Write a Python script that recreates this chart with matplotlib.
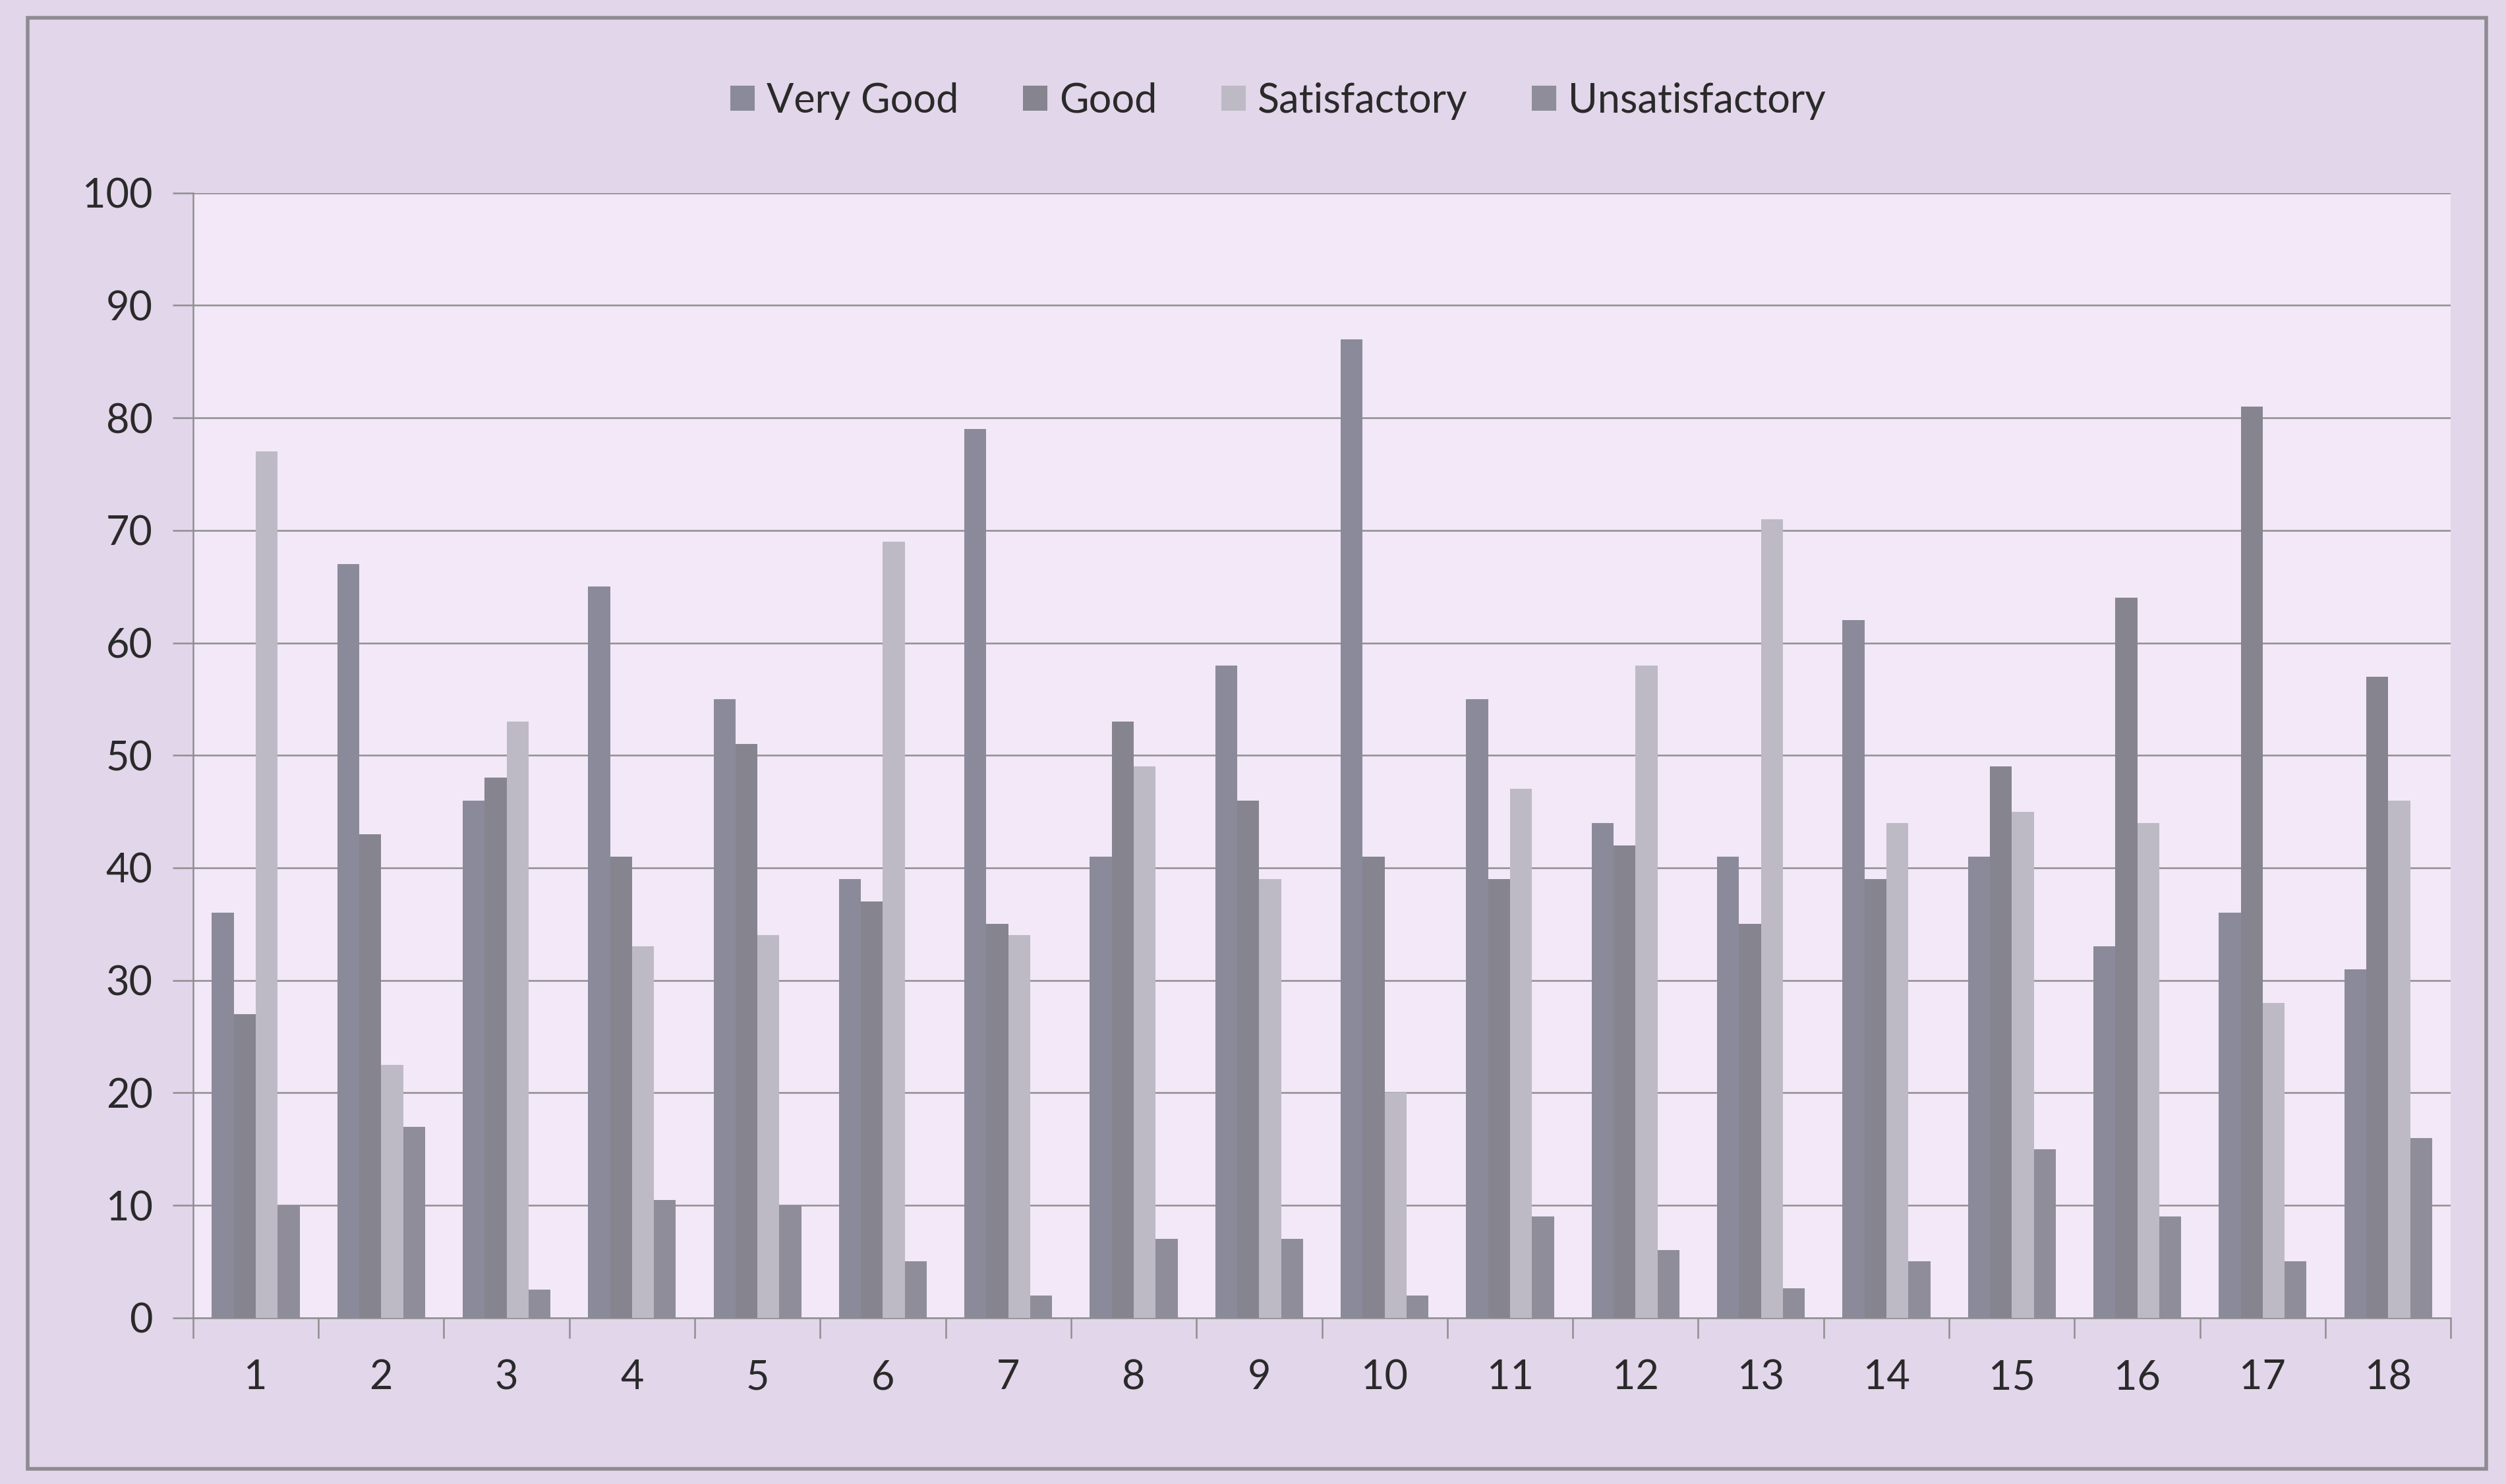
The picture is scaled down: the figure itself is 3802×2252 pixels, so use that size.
import matplotlib.pyplot as plt
import matplotlib.patches as patches
import numpy as np

# Ratings per item (percent)
items = [str(i) for i in range(1, 19)]
very_good = [36, 67, 46, 65, 55, 39, 79, 41, 58, 87, 55, 44, 41, 62, 41, 33, 36, 31]
good = [27, 43, 48, 41, 51, 37, 35, 53, 46, 41, 39, 42, 35, 39, 49, 64, 81, 57]
satisfactory = [77, 22.5, 53, 33, 34, 69, 34, 49, 39, 20, 47, 58, 71, 44, 45, 44, 28, 46]
unsatisfactory = [10, 17, 2.5, 10.5, 10, 5, 2, 7, 7, 2, 9, 6, 2.6, 5, 15, 9, 5, 16]

series = [
    ('Very Good', very_good, '#8b8a9a'),
    ('Good', good, '#86848f'),
    ('Satisfactory', satisfactory, '#bdbac6'),
    ('Unsatisfactory', unsatisfactory, '#8f8d99'),
]

plt.rcParams['font.family'] = ['Lato', 'DejaVu Sans']

fig = plt.figure(figsize=(38.02, 22.52), dpi=100)
fig.patch.set_facecolor('#e2d6ea')

# outer chart frame
frame = patches.Rectangle((0.011, 0.01), 0.981, 0.978, transform=fig.transFigure,
                          fill=False, edgecolor='#8e8c92', linewidth=4)
fig.patches.append(frame)

ax = fig.add_axes([0.077, 0.112, 0.901, 0.758])
ax.set_facecolor('#f2e8f7')

x = np.arange(len(items))
width = 0.175
for i, (name, vals, col) in enumerate(series):
    ax.bar(x + (i - 1.5) * width, vals, width, color=col, label=name, zorder=3)

ax.set_xlim(-0.5, len(items) - 0.5)
ax.set_ylim(0, 100)
ax.set_yticks(range(0, 101, 10))
ax.set_xticks(x)
ax.set_xticklabels(items)
ax.set_xticks(np.arange(-0.5, len(items), 1), minor=True)

ax.grid(axis='y', color='#8f8f8f', linewidth=1.8, zorder=0)
ax.tick_params(axis='y', labelsize=44, length=22, width=1.8, color='#8f8f8f',
               pad=22, labelcolor='#2a2a2a')
ax.tick_params(axis='x', which='major', labelsize=44, length=0, pad=45,
               labelcolor='#2a2a2a')
ax.tick_params(axis='x', which='minor', length=22, width=1.8, color='#8f8f8f')

for s in ['top', 'right']:
    ax.spines[s].set_visible(False)
for s in ['left', 'bottom']:
    ax.spines[s].set_color('#8f8f8f')
    ax.spines[s].set_linewidth(1.8)

fig.legend(loc='center', bbox_to_anchor=(0.51, 0.932), ncol=4, frameon=False,
           fontsize=44, handlelength=0.6, handleheight=0.6, handletextpad=0.3,
           columnspacing=1.6, labelcolor='#2a2a2a')

fig.savefig('out.png', dpi=100, facecolor=fig.get_facecolor())
